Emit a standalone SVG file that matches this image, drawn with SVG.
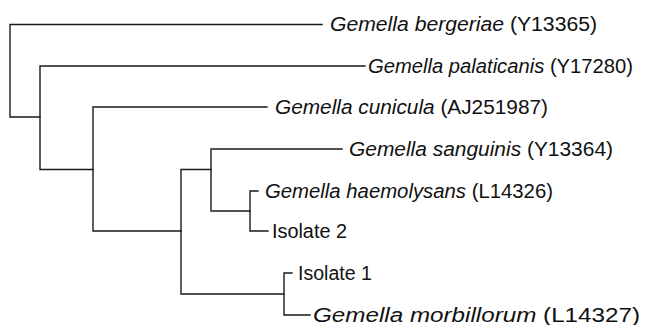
<svg xmlns="http://www.w3.org/2000/svg" width="648" height="325" viewBox="0 0 648 325">
<style>
.br{fill:none;stroke:#1a1a1a;stroke-width:1.4;stroke-linecap:square}
text{font-family:"Liberation Sans","DejaVu Sans",sans-serif;font-size:19.5px;fill:#111}
.sp{font-style:italic}
</style>
<rect width="648" height="325" fill="#fff"/>
<g id="connectors">
<path class="br" d="M10,24.5V117M10,24.5H322M10,117H40"/>
<path class="br" d="M40,66V169.5M40,66H365M40,169.5H93"/>
<path class="br" d="M93,107V231M93,107H267M93,231H181"/>
<path class="br" d="M181,169.5V294M181,169.5H211M181,294H284"/>
<path class="br" d="M211,149V211M211,149H342M211,211H250"/>
<path class="br" d="M250,191V231M250,191H258M250,231H268"/>
<path class="br" d="M284,273V315M284,273H292M284,315H310"/>
</g>
<g id="n1"><text x="330" y="31" textLength="267" lengthAdjust="spacingAndGlyphs"><tspan class="sp">Gemella bergeriae</tspan> (Y13365)</text></g>
<g id="n2"><text x="368" y="72.5" textLength="265" lengthAdjust="spacingAndGlyphs"><tspan class="sp">Gemella palaticanis</tspan> (Y17280)</text></g>
<g id="n3"><text x="275" y="113.5" textLength="273" lengthAdjust="spacingAndGlyphs"><tspan class="sp">Gemella cunicula</tspan> (AJ251987)</text></g>
<g id="n4"><text x="349" y="155.5" textLength="264" lengthAdjust="spacingAndGlyphs"><tspan class="sp">Gemella sanguinis</tspan> (Y13364)</text></g>
<g id="n5"><text x="265" y="197.5" textLength="288" lengthAdjust="spacingAndGlyphs"><tspan class="sp">Gemella haemolysans</tspan> (L14326)</text></g>
<g id="n6"><text x="272" y="237.5" textLength="75" lengthAdjust="spacingAndGlyphs">Isolate 2</text></g>
<g id="n7"><text x="298" y="279.5" textLength="74" lengthAdjust="spacingAndGlyphs">Isolate 1</text></g>
<g id="n8"><text x="313" y="321.5" textLength="327" lengthAdjust="spacingAndGlyphs"><tspan class="sp">Gemella morbillorum</tspan> (L14327)</text></g>
</svg>
